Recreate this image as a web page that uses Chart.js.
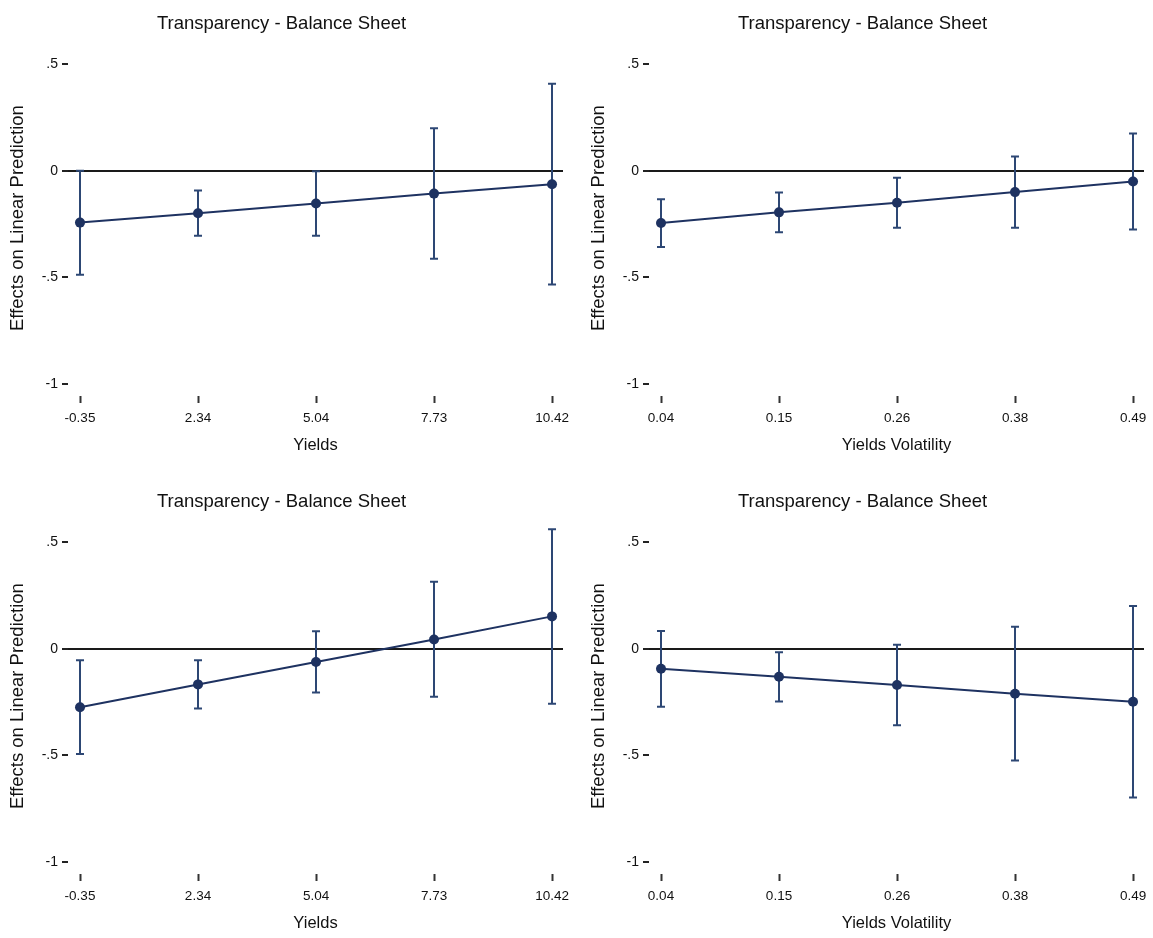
<!DOCTYPE html>
<html>
<head>
<meta charset="utf-8">
<title>Transparency - Balance Sheet</title>
<script src="https://cdn.jsdelivr.net/npm/chart.js@4.4.1/dist/chart.umd.min.js"></script>
<style>
  html, body { margin: 0; padding: 0; background: #fff; overflow: hidden; }
  .panel { position: absolute; width: 572px; height: 470px; }
</style>
</head>
<body>
<div class="panel" style="left:0;top:0"><canvas id="p1" width="572" height="470"></canvas></div>
<div class="panel" style="left:581px;top:0"><canvas id="p2" width="572" height="470"></canvas></div>
<div class="panel" style="left:0;top:478px"><canvas id="p3" width="572" height="470"></canvas></div>
<div class="panel" style="left:581px;top:478px"><canvas id="p4" width="572" height="470"></canvas></div>
<script>
// x categories (evenly spaced at positions 0..4)
const yieldLabels = ['-0.35', '2.34', '5.04', '7.73', '10.42'];
const volLabels = ['0.04', '0.15', '0.26', '0.38', '0.49'];
const xPositions = [0, 1, 2, 3, 4];

const yTickValues = [-1, -0.5, 0, 0.5];
const yTickLabels = ['-1', '-.5', '0', '.5'];

// top left: yields
const yieldsTopMean = [-0.243, -0.199, -0.153, -0.107, -0.063];
const yieldsTopLow = [-0.487, -0.305, -0.305, -0.412, -0.533];
const yieldsTopHigh = [0.0, -0.092, -0.002, 0.199, 0.408];

// top right: yields volatility
const volTopMean = [-0.245, -0.195, -0.150, -0.100, -0.050];
const volTopLow = [-0.357, -0.288, -0.267, -0.267, -0.275];
const volTopHigh = [-0.133, -0.102, -0.033, 0.067, 0.175];

// bottom left: yields
const yieldsBotMean = [-0.274, -0.167, -0.062, 0.044, 0.152];
const yieldsBotLow = [-0.494, -0.280, -0.205, -0.225, -0.258];
const yieldsBotHigh = [-0.054, -0.054, 0.082, 0.314, 0.561];

// bottom right: yields volatility
const volBotMean = [-0.094, -0.131, -0.170, -0.211, -0.248];
const volBotLow = [-0.272, -0.247, -0.359, -0.524, -0.697];
const volBotHigh = [0.084, -0.016, 0.019, 0.103, 0.201];

Chart.defaults.font.family = '"Liberation Sans", Arial, Helvetica, sans-serif';
Chart.defaults.color = '#111';

const STEM = '#2d4774';
const MARK = '#1e3261';

function makePanel(id, labels, xTitle, mean, low, high) {
  const stems = [];
  xPositions.forEach((x, i) => {
    stems.push({ x, y: low[i] }, { x, y: high[i] }, { x, y: null });
  });
  const caps = [];
  xPositions.forEach((x, i) => {
    caps.push({ x, y: low[i] }, { x, y: high[i] });
  });

  new Chart(document.getElementById(id), {
    type: 'line',
    data: {
      datasets: [
        {
          data: stems,
          borderColor: STEM,
          borderWidth: 2,
          pointRadius: 0,
          spanGaps: false,
          order: 3,
        },
        {
          data: caps,
          showLine: false,
          pointStyle: 'line',
          pointRadius: 4,
          pointBorderWidth: 2,
          pointBorderColor: STEM,
          order: 2,
        },
        {
          data: xPositions.map((x, i) => ({ x, y: mean[i] })),
          borderColor: MARK,
          borderWidth: 2,
          pointRadius: 5,
          pointBackgroundColor: MARK,
          pointBorderColor: MARK,
          pointBorderWidth: 0,
          tension: 0,
          order: 1,
        },
      ],
    },
    options: {
      responsive: false,
      animation: false,
      events: [],
      layout: { padding: { left: 0, right: 9, top: 0, bottom: 0 } },
      plugins: {
        legend: { display: false },
        tooltip: { enabled: false },
        title: {
          display: true,
          text: 'Transparency - Balance Sheet',
          font: { size: 18.5, weight: 'normal' },
          color: '#111',
          padding: { top: 13, bottom: 5 },
        },
      },
      scales: {
        x: {
          type: 'linear',
          min: -0.1017,
          max: 4.093,
          afterBuildTicks: (s) => { s.ticks = xPositions.map((v) => ({ value: v })); },
          afterFit: (s) => {
            s.height = 74;
            s.paddingLeft = 0;
            s.paddingRight = 0;
          },
          ticks: {
            callback: (v) => labels[v],
            font: { size: 13.5 },
            color: '#111',
            padding: 7,
            maxRotation: 0,
            autoSkip: false,
          },
          grid: {
            drawOnChartArea: false,
            drawTicks: true,
            tickLength: 7,
            tickColor: '#333',
            tickWidth: 2,
          },
          border: { display: false },
          title: {
            display: true,
            text: xTitle,
            font: { size: 16.5 },
            color: '#111',
            padding: { top: 0, bottom: 15 },
          },
        },
        y: {
          min: -1.05625,
          max: 0.6125,
          afterBuildTicks: (s) => { s.ticks = yTickValues.map((v) => ({ value: v })); },
          afterFit: (s) => { s.width = 68; },
          ticks: {
            callback: (v) => yTickLabels[yTickValues.indexOf(v)],
            font: { size: 14 },
            color: '#111',
            padding: 4,
          },
          grid: {
            color: (c) => (c.tick && c.tick.value === 0 ? '#1a1a1a' : 'rgba(0,0,0,0)'),
            lineWidth: 2,
            drawTicks: true,
            tickLength: 6,
            tickColor: '#222',
            tickWidth: 2,
          },
          border: { display: false },
          title: {
            display: true,
            text: 'Effects on Linear Prediction',
            font: { size: 18.5 },
            color: '#111',
            padding: { top: 7, bottom: 0 },
          },
        },
      },
    },
  });
}

makePanel('p1', yieldLabels, 'Yields', yieldsTopMean, yieldsTopLow, yieldsTopHigh);
makePanel('p2', volLabels, 'Yields Volatility', volTopMean, volTopLow, volTopHigh);
makePanel('p3', yieldLabels, 'Yields', yieldsBotMean, yieldsBotLow, yieldsBotHigh);
makePanel('p4', volLabels, 'Yields Volatility', volBotMean, volBotLow, volBotHigh);
</script>
</body>
</html>
